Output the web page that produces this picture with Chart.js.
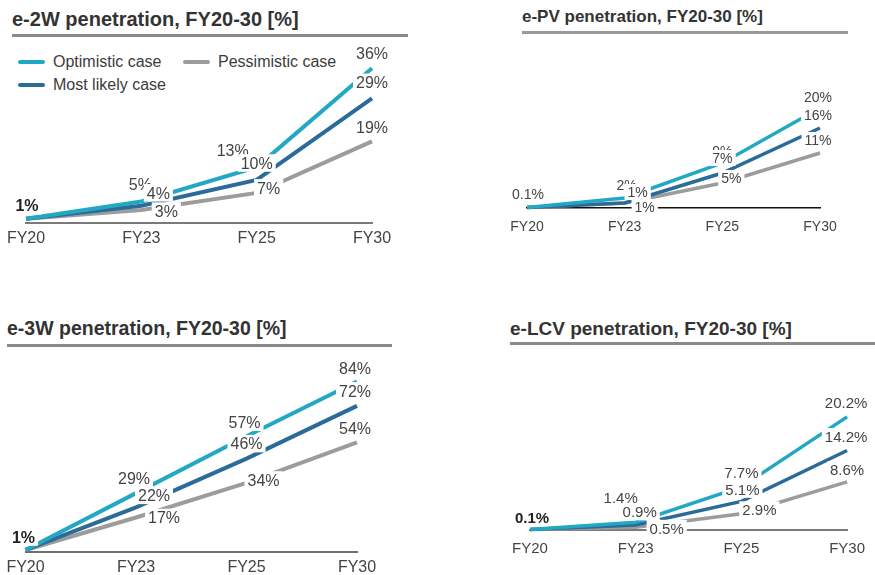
<!DOCTYPE html>
<html>
<head>
<meta charset="utf-8">
<title>EV penetration scenarios FY20-30</title>
<script src="https://cdn.jsdelivr.net/npm/chart.js@4.4.1/dist/chart.umd.min.js"></script>
<style>
  html, body { margin: 0; padding: 0; background: #fff; }
  body { position: relative; width: 875px; height: 575px; overflow: hidden;
         font-family: "Liberation Sans", Arial, sans-serif; }
  .title { position: absolute; font-weight: bold; color: #333; white-space: nowrap; line-height: 1; }
  .rule { position: absolute; height: 3px; background: #8a8a8a; }
  canvas { position: absolute; }
  .legend-item { position: absolute; height: 20px; display: flex; align-items: center;
                 font-size: 16px; color: #3c3c3c; white-space: nowrap; }
  .legend-item i { display: inline-block; width: 27px; height: 4px; border-radius: 2px; margin-right: 8px; }
</style>
</head>
<body>

<div class="title" style="left:12px; top:9px; font-size:20px;">e-2W penetration, FY20-30 [%]</div>
<div class="rule" style="left:12px; top:34px; width:396px;"></div>

<div class="title" style="left:522px; top:8px; font-size:17px;">e-PV penetration, FY20-30 [%]</div>
<div class="rule" style="left:522px; top:31px; width:326px; background:#999;"></div>

<div class="title" style="left:7px; top:319px; font-size:19.5px;">e-3W penetration, FY20-30 [%]</div>
<div class="rule" style="left:7px; top:344px; width:385px;"></div>

<div class="title" style="left:510px; top:319px; font-size:19px;">e-LCV penetration, FY20-30 [%]</div>
<div class="rule" style="left:510px; top:342px; width:365px;"></div>

<div id="legend"></div>

<canvas id="c1"></canvas>
<canvas id="c2"></canvas>
<canvas id="c3"></canvas>
<canvas id="c4"></canvas>

<script>
// Fiscal years on the x axis
const years = ['FY20', 'FY23', 'FY25', 'FY30'];
const scenarioNames = ['Optimistic case', 'Most likely case', 'Pessimistic case'];

// e-2W penetration [%]
const e2wOptimistic  = [1, 5, 13, 36];
const e2wMostLikely  = [1, 4, 10, 29];
const e2wPessimistic = [1, 3, 7, 19];

// e-PV penetration [%]
const epvOptimistic  = [0.1, 2, 9, 20];
const epvMostLikely  = [0.1, 1, 7, 16];
const epvPessimistic = [0.1, 1, 5, 11];

// e-3W penetration [%]
const e3wOptimistic  = [1, 29, 57, 84];
const e3wMostLikely  = [1, 22, 46, 72];
const e3wPessimistic = [1, 17, 34, 54];

// e-LCV penetration [%]
const elcvOptimistic  = [0.1, 1.4, 7.7, 20.2];
const elcvMostLikely  = [0.1, 0.9, 5.1, 14.2];
const elcvPessimistic = [0.1, 0.5, 2.9, 8.6];

// Line colours per scenario
const scenarioColors = ['#22a8c3', '#2b6b99', '#9c9c9c'];

// Value-label placement relative to each point, [dx, dy] in px (scenario x year)
const e2wLabelShift = [
  [[1, -13], [-1, -17], [-24, -17], [0, -15]],
  [[0, 0], [17, -13], [0, -17], [0, -16]],
  [[0, 0], [25, 1], [12, -5], [0, -14]]
];
const epvLabelShift = [
  [[1, -14], [2, -13], [0, -12], [-2, -11]],
  [[0, 0], [13, -11], [0, -15], [-2, -13]],
  [[0, 0], [20, 4], [9, -5], [-2, -13]]
];
const e3wLabelShift = [
  [[-2, -13], [-2, -15], [-2, -14], [-2, -13]],
  [[0, 0], [18, -12], [0, -15], [-2, -15]],
  [[0, 0], [28, 0], [17, -3], [-2, -14]]
];
const elcvLabelShift = [
  [[2, -12], [-15, -25], [0, -14], [-1, -14]],
  [[0, 0], [4, -13], [1, -12], [-1, -14]],
  [[0, 0], [31, 1], [18, -4], [0, -12]]
];

const FONT = '"Liberation Sans", Arial, sans-serif';
Chart.defaults.font.family = FONT;

// Draws each value as text on a white plate that interrupts the lines beneath
const valueLabels = {
  id: 'valueLabels',
  afterDatasetsDraw(chart, args, opts) {
    const ctx = chart.ctx;
    ctx.save();
    chart.data.datasets.forEach((ds, di) => {
      const meta = chart.getDatasetMeta(di);
      meta.data.forEach((pt, i) => {
        if (i === 0 && di > 0) return; // shared starting value is labelled once
        const shift = opts.shift[di][i];
        const bold = i === 0 && opts.firstBold;
        const text = ds.data[i] + '%';
        ctx.font = (bold ? 'bold ' : '') + opts.size + 'px ' + FONT;
        const w = ctx.measureText(text).width;
        const cx = pt.x + shift[0];
        const cy = pt.y + shift[1];
        const half = opts.size * 0.36;
        ctx.fillStyle = '#ffffff';
        ctx.fillRect(cx - w / 2 - 3, cy - half - 3, w + 6, half * 2 + 6);
        ctx.fillStyle = bold ? '#222' : '#444';
        ctx.textAlign = 'center';
        ctx.textBaseline = 'alphabetic';
        ctx.fillText(text, cx, cy + half);
      });
    });
    ctx.restore();
  }
};

const panels = [
  { id: 'c1', rect: [0, 40, 440, 220], x0: 26, x1: 372, axisY: 223, perUnit: 4.3, yMax: 40,
    tickSize: 16, tickPad: 6.4, labelSize: 16, axisColor: '#7a7a7a', axisWidth: 2, lineWidth: 4,
    firstBold: true, series: [e2wOptimistic, e2wMostLikely, e2wPessimistic], shift: e2wLabelShift },
  { id: 'c2', rect: [450, 60, 425, 190], x0: 527, x1: 820, axisY: 208, perUnit: 5.0, yMax: 24,
    tickSize: 14, tickPad: 10.5, labelSize: 14, axisColor: '#111', axisWidth: 1.5, lineWidth: 3.5,
    firstBold: false, series: [epvOptimistic, epvMostLikely, epvPessimistic], shift: epvLabelShift },
  { id: 'c3', rect: [0, 350, 440, 240], x0: 22, x1: 357, axisY: 552, perUnit: 2.03, yMax: 90,
    tickSize: 16, tickPad: 6.4, labelSize: 16, axisColor: '#6e6e6e', axisWidth: 2, lineWidth: 4,
    firstBold: true, series: [e3wOptimistic, e3wMostLikely, e3wPessimistic], shift: e3wLabelShift },
  { id: 'c4', rect: [450, 350, 425, 225], x0: 530, x1: 849, axisY: 530, perUnit: 5.6, yMax: 22,
    tickSize: 15, tickPad: 10, labelSize: 15, axisColor: '#7a7a7a', axisWidth: 2, lineWidth: 3.5,
    firstBold: true, series: [elcvOptimistic, elcvMostLikely, elcvPessimistic], shift: elcvLabelShift }
];

const charts = panels.map(p => {
  const [l, t, w, h] = p.rect;
  const canvas = document.getElementById(p.id);
  canvas.width = w; canvas.height = h;
  canvas.style.left = l + 'px'; canvas.style.top = t + 'px';
  canvas.style.width = w + 'px'; canvas.style.height = h + 'px';

  const areaTop = p.axisY - p.perUnit * p.yMax;
  const axisHeight = 2 * p.tickPad + 1.2 * p.tickSize;

  return new Chart(canvas, {
    type: 'line',
    data: {
      labels: years,
      datasets: p.series.map((values, k) => ({
        label: scenarioNames[k],
        data: values,
        borderColor: scenarioColors[k],
        backgroundColor: scenarioColors[k],
        borderWidth: p.lineWidth,
        borderCapStyle: 'butt',
        pointRadius: 0,
        pointHoverRadius: 0,
        tension: 0,
        fill: false,
        clip: false
      }))
    },
    options: {
      responsive: false,
      devicePixelRatio: 1,
      animation: false,
      events: [],
      layout: {
        padding: {
          left: p.x0 - l,
          right: l + w - p.x1,
          top: areaTop - t,
          bottom: t + h - (p.axisY + axisHeight)
        }
      },
      plugins: {
        legend: { display: false },
        tooltip: { enabled: false },
        valueLabels: { shift: p.shift, size: p.labelSize, firstBold: p.firstBold }
      },
      scales: {
        x: {
          type: 'category',
          offset: false,
          grid: { display: false, drawTicks: false },
          border: { display: true, color: p.axisColor, width: p.axisWidth },
          ticks: { color: '#444', font: { size: p.tickSize }, padding: p.tickPad,
                   maxRotation: 0, autoSkip: false }
        },
        y: { display: false, min: 0, max: p.yMax }
      }
    },
    plugins: [valueLabels]
  });
});

// Legend for the scenarios, built from the first chart's datasets
(function buildLegend() {
  const legend = document.getElementById('legend');
  const ds = charts[0].data.datasets;
  const slots = [[0, 18, 52], [2, 183, 52], [1, 18, 75]];
  slots.forEach(([k, x, y]) => {
    const item = document.createElement('div');
    item.className = 'legend-item';
    item.style.left = x + 'px';
    item.style.top = y + 'px';
    const sw = document.createElement('i');
    sw.style.background = ds[k].borderColor;
    item.appendChild(sw);
    item.appendChild(document.createTextNode(ds[k].label));
    legend.appendChild(item);
  });
})();
</script>
</body>
</html>
